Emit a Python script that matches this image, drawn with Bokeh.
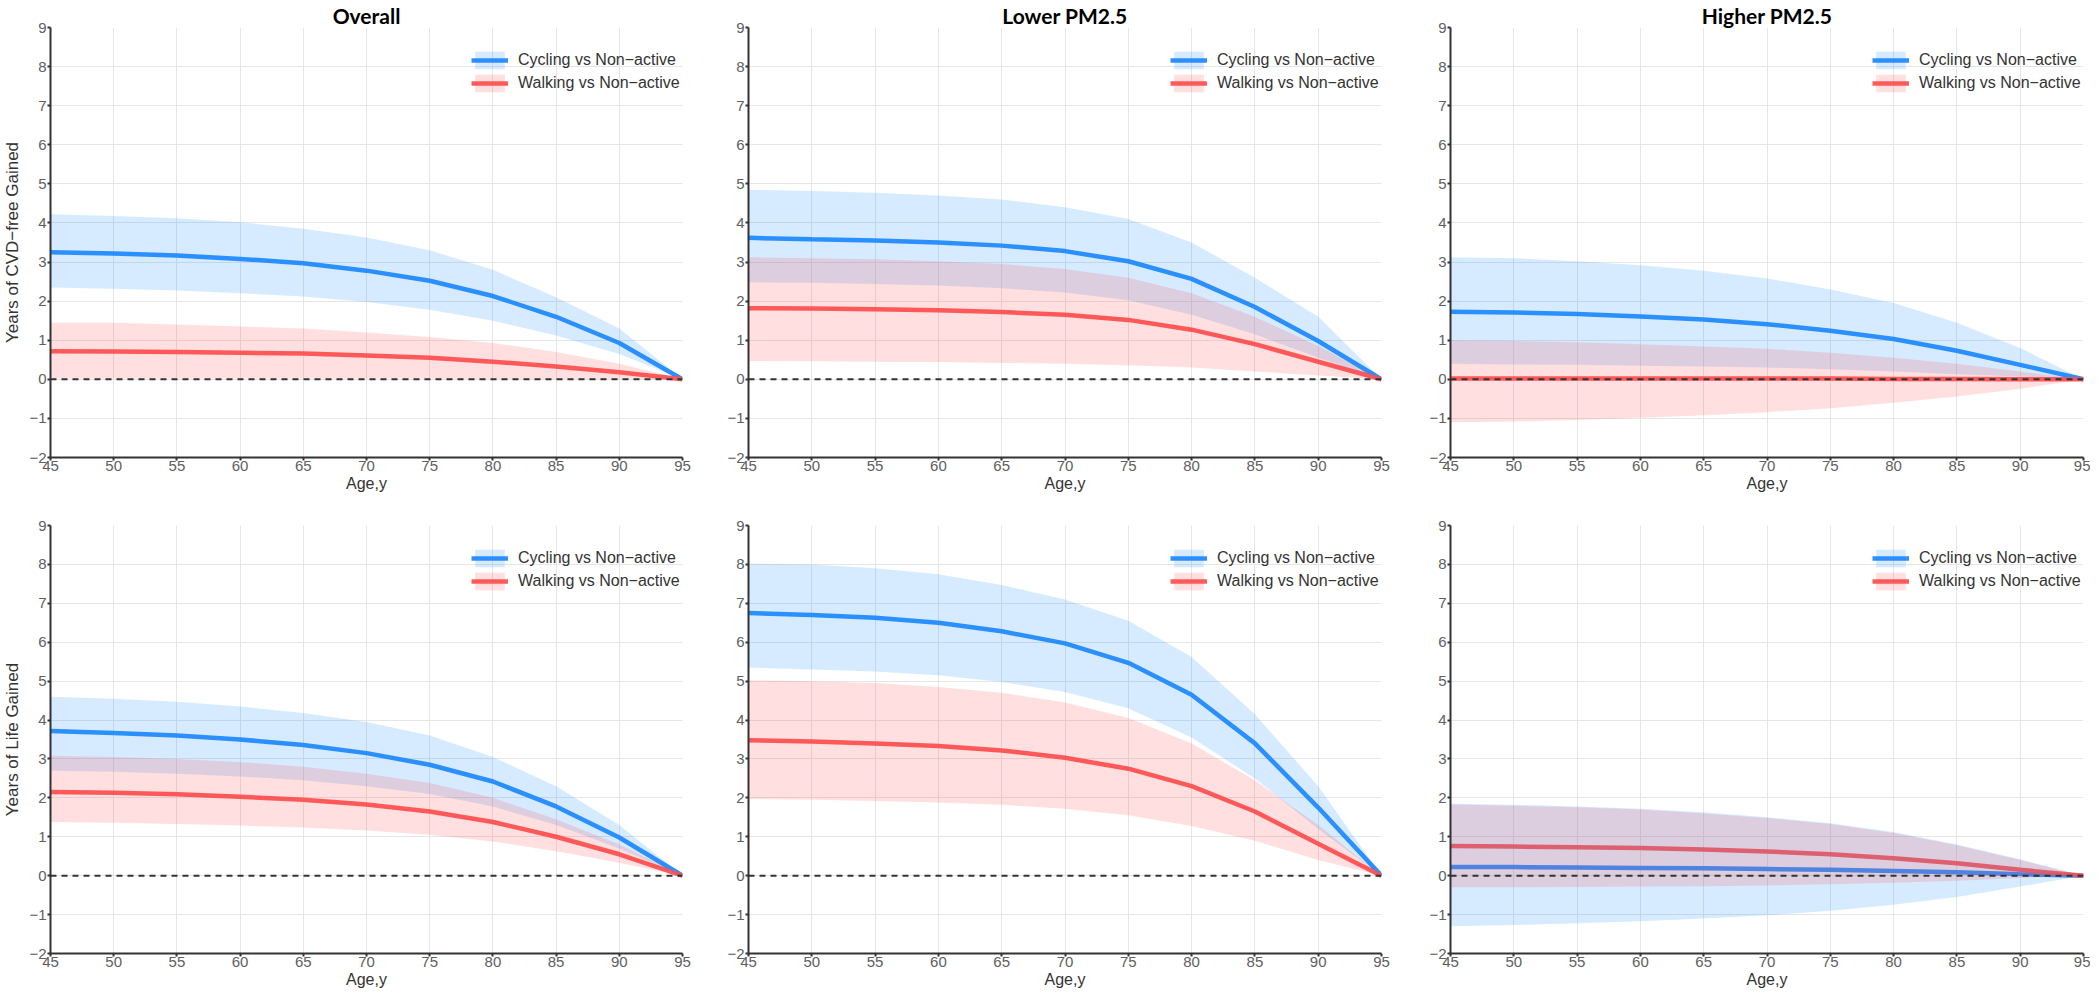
from bokeh.plotting import figure
from bokeh.layouts import column, row
from bokeh.models import Range1d, FixedTicker, Span, Legend, LegendItem
from bokeh.embed import file_html
from bokeh.resources import INLINE

# ---------------- data ----------------
ages = [45, 50, 55, 60, 65, 70, 75, 80, 85, 90, 95]

col_titles = ["Overall", "Lower PM2.5", "Higher PM2.5"]
row_ylabels = ["Years of CVD\u2212free Gained", "Years of Life Gained"]
series_names = ["Cycling vs Non\u2212active", "Walking vs Non\u2212active"]
x_ticks = [45, 50, 55, 60, 65, 70, 75, 80, 85, 90, 95]
y_ticks = [-2, -1, 0, 1, 2, 3, 4, 5, 6, 7, 8, 9]

# CVD-free years gained -- Overall
cvd_all_cyc = [3.25, 3.22, 3.17, 3.08, 2.97, 2.78, 2.52, 2.13, 1.60, 0.93, 0.0]
cvd_all_cyc_lo = [2.35, 2.32, 2.27, 2.20, 2.12, 1.98, 1.78, 1.50, 1.12, 0.65, 0.0]
cvd_all_cyc_hi = [4.22, 4.18, 4.12, 4.02, 3.85, 3.63, 3.30, 2.80, 2.10, 1.30, 0.0]
cvd_all_walk = [0.72, 0.71, 0.70, 0.68, 0.66, 0.61, 0.55, 0.45, 0.33, 0.18, 0.0]
cvd_all_walk_lo = [0.02, 0.02, 0.02, 0.02, 0.02, 0.02, 0.02, 0.01, 0.01, 0.0, 0.0]
cvd_all_walk_hi = [1.45, 1.45, 1.40, 1.35, 1.30, 1.20, 1.08, 0.93, 0.70, 0.40, 0.0]

# CVD-free years gained -- Lower PM2.5
cvd_low_cyc = [3.62, 3.58, 3.55, 3.50, 3.42, 3.28, 3.02, 2.57, 1.85, 0.98, 0.0]
cvd_low_cyc_lo = [2.48, 2.47, 2.44, 2.40, 2.33, 2.22, 2.02, 1.65, 1.15, 0.55, 0.0]
cvd_low_cyc_hi = [4.85, 4.82, 4.77, 4.70, 4.60, 4.40, 4.10, 3.50, 2.60, 1.60, 0.0]
cvd_low_walk = [1.82, 1.81, 1.79, 1.77, 1.72, 1.65, 1.52, 1.27, 0.90, 0.45, 0.0]
cvd_low_walk_lo = [0.47, 0.46, 0.45, 0.44, 0.42, 0.40, 0.36, 0.30, 0.20, 0.10, 0.0]
cvd_low_walk_hi = [3.12, 3.10, 3.07, 3.02, 2.95, 2.82, 2.60, 2.20, 1.60, 0.85, 0.0]

# CVD-free years gained -- Higher PM2.5
cvd_high_cyc = [1.73, 1.71, 1.67, 1.61, 1.53, 1.41, 1.24, 1.03, 0.73, 0.37, 0.0]
cvd_high_cyc_lo = [0.40, 0.38, 0.37, 0.35, 0.33, 0.30, 0.26, 0.20, 0.13, 0.07, 0.0]
cvd_high_cyc_hi = [3.12, 3.10, 3.02, 2.92, 2.78, 2.58, 2.30, 1.95, 1.45, 0.80, 0.0]
cvd_high_walk = [0.02, 0.02, 0.02, 0.02, 0.02, 0.02, 0.02, 0.01, 0.01, 0.0, 0.0]
cvd_high_walk_lo = [-1.10, -1.08, -1.04, -0.98, -0.92, -0.84, -0.74, -0.60, -0.44, -0.24, 0.0]
cvd_high_walk_hi = [1.00, 0.98, 0.95, 0.90, 0.84, 0.78, 0.68, 0.55, 0.40, 0.20, 0.0]

# Life years gained -- Overall
life_all_cyc = [3.72, 3.67, 3.60, 3.50, 3.36, 3.15, 2.85, 2.42, 1.78, 0.98, 0.0]
life_all_cyc_lo = [2.70, 2.67, 2.62, 2.55, 2.45, 2.30, 2.10, 1.78, 1.30, 0.70, 0.0]
life_all_cyc_hi = [4.60, 4.55, 4.47, 4.35, 4.18, 3.95, 3.60, 3.05, 2.30, 1.30, 0.0]
life_all_walk = [2.15, 2.13, 2.09, 2.03, 1.95, 1.83, 1.65, 1.38, 1.00, 0.55, 0.0]
life_all_walk_lo = [1.38, 1.36, 1.33, 1.29, 1.24, 1.16, 1.05, 0.88, 0.63, 0.33, 0.0]
life_all_walk_hi = [3.08, 3.05, 3.00, 2.92, 2.80, 2.62, 2.38, 2.00, 1.45, 0.80, 0.0]

# Life years gained -- Lower PM2.5
life_low_cyc = [6.75, 6.70, 6.63, 6.50, 6.28, 5.97, 5.47, 4.65, 3.40, 1.75, 0.0]
life_low_cyc_lo = [5.35, 5.30, 5.25, 5.15, 4.98, 4.72, 4.30, 3.55, 2.50, 1.20, 0.0]
life_low_cyc_hi = [8.02, 8.00, 7.90, 7.75, 7.47, 7.10, 6.55, 5.62, 4.15, 2.30, 0.0]
life_low_walk = [3.48, 3.45, 3.40, 3.33, 3.22, 3.03, 2.75, 2.30, 1.65, 0.82, 0.0]
life_low_walk_lo = [1.97, 1.95, 1.92, 1.88, 1.82, 1.72, 1.55, 1.28, 0.90, 0.40, 0.0]
life_low_walk_hi = [5.02, 5.00, 4.95, 4.85, 4.70, 4.45, 4.05, 3.40, 2.45, 1.30, 0.0]

# Life years gained -- Higher PM2.5
life_high_cyc = [0.22, 0.22, 0.21, 0.20, 0.19, 0.17, 0.15, 0.12, 0.09, 0.04, 0.0]
life_high_cyc_lo = [-1.30, -1.27, -1.22, -1.17, -1.10, -1.02, -0.90, -0.75, -0.55, -0.28, 0.0]
life_high_cyc_hi = [1.85, 1.82, 1.78, 1.72, 1.63, 1.50, 1.35, 1.12, 0.80, 0.42, 0.0]
life_high_walk = [0.76, 0.75, 0.73, 0.71, 0.67, 0.62, 0.55, 0.45, 0.32, 0.15, 0.0]
life_high_walk_lo = [-0.30, -0.30, -0.29, -0.28, -0.27, -0.25, -0.22, -0.18, -0.13, -0.06, 0.0]
life_high_walk_hi = [1.83, 1.80, 1.76, 1.70, 1.60, 1.48, 1.33, 1.10, 0.78, 0.40, 0.0]

panels = [
    [(cvd_all_cyc, cvd_all_cyc_lo, cvd_all_cyc_hi, cvd_all_walk, cvd_all_walk_lo, cvd_all_walk_hi),
     (cvd_low_cyc, cvd_low_cyc_lo, cvd_low_cyc_hi, cvd_low_walk, cvd_low_walk_lo, cvd_low_walk_hi),
     (cvd_high_cyc, cvd_high_cyc_lo, cvd_high_cyc_hi, cvd_high_walk, cvd_high_walk_lo, cvd_high_walk_hi)],
    [(life_all_cyc, life_all_cyc_lo, life_all_cyc_hi, life_all_walk, life_all_walk_lo, life_all_walk_hi),
     (life_low_cyc, life_low_cyc_lo, life_low_cyc_hi, life_low_walk, life_low_walk_lo, life_low_walk_hi),
     (life_high_cyc, life_high_cyc_lo, life_high_cyc_hi, life_high_walk, life_high_walk_lo, life_high_walk_hi)],
]

# ---------------- style ----------------
BLUE = "#2389ff"
BLUE_FILL = "#1e90ff"
RED = "#ff5252"
RED_FILL = "#ff4d4d"
FONT = "Liberation Sans"

col_geom = [  # (left border, frame width, right border)
    (42, 632, 26),
    (40, 633, 27),
    (42, 633, 7),
]
row_geom = [  # (top border, frame height, bottom border)
    (25, 430, 42),
    (26, 428, 40),
]


def make_panel(r, c):
    lb, fw, rb = col_geom[c]
    tb, fh, bb = row_geom[r]
    cyc, cyc_lo, cyc_hi, walk, walk_lo, walk_hi = panels[r][c]
    p = figure(frame_width=fw, frame_height=fh,
               min_border_left=lb, min_border_right=rb,
               min_border_top=tb, min_border_bottom=bb,
               x_range=Range1d(45, 95), y_range=Range1d(-2, 9),
               output_backend="svg", toolbar_location=None,
               background_fill_color="white", border_fill_color="white")
    p.outline_line_color = None

    if r == 0:
        p.title.text = col_titles[c]
        p.title.align = "center"
        p.title.text_font = "Lato"
        p.title.text_font_style = "bold"
        p.title.text_font_size = "21px"
        p.title.text_color = "black"
        p.title.standoff = 0
        p.title.offset = 0

    p.xaxis.ticker = FixedTicker(ticks=x_ticks)
    p.yaxis.ticker = FixedTicker(ticks=y_ticks)
    p.yaxis.major_label_overrides = {-2: "\u22122", -1: "\u22121"}
    for ax in (p.xaxis[0], p.yaxis[0]):
        ax.axis_line_color = "#333333"
        ax.axis_line_width = 2
        ax.major_tick_line_color = "#333333"
        ax.major_tick_line_width = 2
        ax.major_tick_out = 3
        ax.major_tick_in = 0
        ax.minor_tick_line_color = None
        ax.major_label_text_font = FONT
        ax.major_label_text_font_size = "15px"
        ax.major_label_text_color = "#606060"
        ax.major_label_standoff = 1
        ax.axis_label_text_font = FONT
        ax.axis_label_text_font_style = "normal"
        ax.axis_label_text_color = "#333333"
    p.xaxis.major_label_standoff = 0
    p.xaxis.axis_label = "Age,y"
    p.xaxis.axis_label_text_font_size = "16px"
    p.xaxis.axis_label_standoff = 1
    if c == 0:
        p.yaxis.axis_label = row_ylabels[r]
        p.yaxis.axis_label_text_font_size = "17px"
        p.yaxis.axis_label_standoff = 4

    p.xgrid.grid_line_color = "#e6e6e6"
    p.ygrid.grid_line_color = "#e6e6e6"
    p.xgrid.grid_line_width = 1
    p.ygrid.grid_line_width = 1

    # lines first, translucent bands over them (as in the original figure)
    line_c = p.line(x=ages, y=cyc, line_color=BLUE, line_width=4.5, line_alpha=0.95)
    line_w = p.line(x=ages, y=walk, line_color=RED, line_width=4.5, line_alpha=0.95)
    band_c = p.varea(x=ages, y1=cyc_lo, y2=cyc_hi, fill_color=BLUE_FILL, fill_alpha=0.18)
    band_w = p.varea(x=ages, y1=walk_lo, y2=walk_hi, fill_color=RED_FILL, fill_alpha=0.18)

    zero = Span(location=0, dimension="width", line_color="#333333",
                line_width=2, line_dash="6 5")
    p.add_layout(zero)

    legend = Legend(items=[
        LegendItem(label=series_names[0], renderers=[band_c, line_c]),
        LegendItem(label=series_names[1], renderers=[band_w, line_w]),
    ])
    legend.location = (fw - 211, fh - 17 - 50)
    legend.margin = 0
    legend.padding = 0
    legend.spacing = 1
    legend.glyph_width = 37
    legend.glyph_height = 22
    legend.label_height = 22
    legend.label_standoff = 10
    legend.label_text_font = FONT
    legend.label_text_font_size = "16px"
    legend.label_text_color = "#333333"
    legend.background_fill_alpha = 0
    legend.border_line_color = None
    p.add_layout(legend, "center")
    return p


rows = []
for r in range(2):
    rows.append(row(*[make_panel(r, c) for c in range(3)], spacing=0))
layout = column(*rows, spacing=0)

open("out.html", "w").write(file_html(layout, INLINE))
